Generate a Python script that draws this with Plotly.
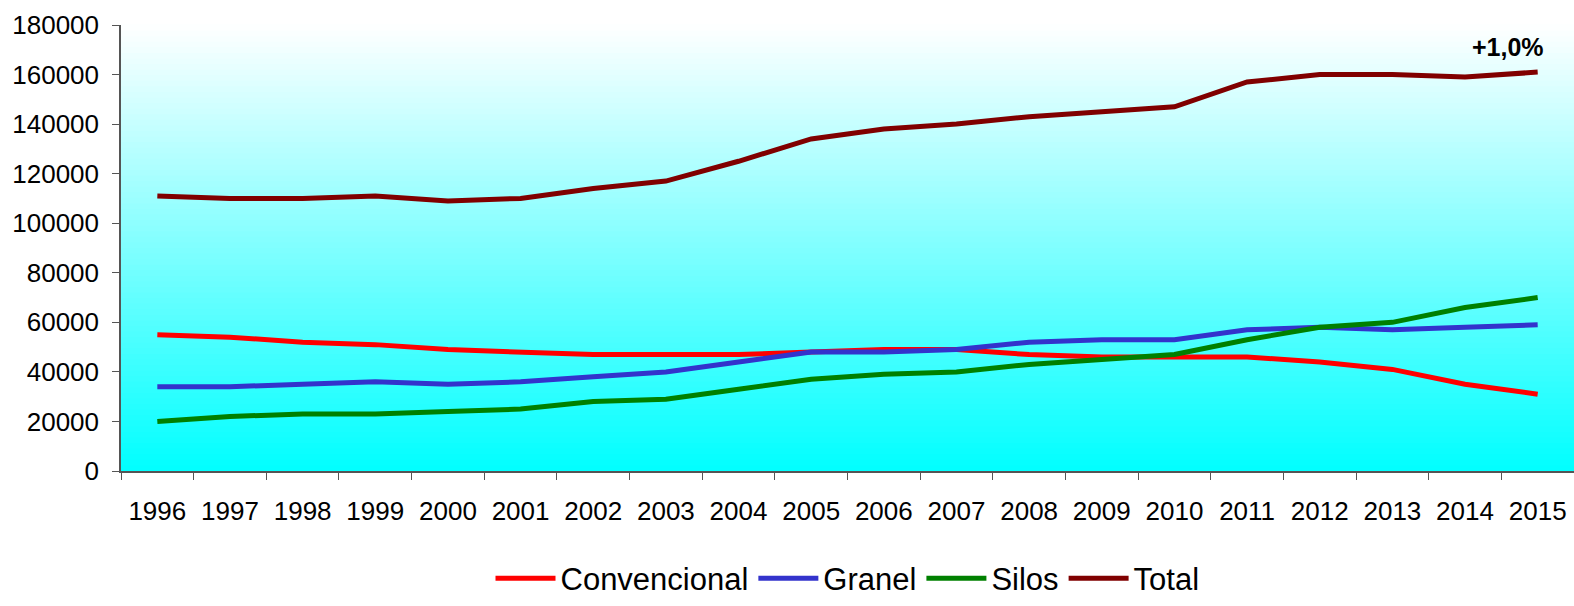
import plotly.graph_objects as go

years = [str(y) for y in range(1996, 2016)]
convencional = [55000, 54000, 52000, 51000, 49000, 48000, 47000, 47000, 47000, 48000,
                49000, 49000, 47000, 46000, 46000, 46000, 44000, 41000, 35000, 31000]
granel = [34000, 34000, 35000, 36000, 35000, 36000, 38000, 40000, 44000, 48000,
          48000, 49000, 52000, 53000, 53000, 57000, 58000, 57000, 58000, 59000]
silos = [20000, 22000, 23000, 23000, 24000, 25000, 28000, 29000, 33000, 37000,
         39000, 40000, 43000, 45000, 47000, 53000, 58000, 60000, 66000, 70000]
total = [111000, 110000, 110000, 111000, 109000, 110000, 114000, 117000, 125000, 134000,
         138000, 140000, 143000, 145000, 147000, 157000, 160000, 160000, 159000, 161000]
series_names = ["Convencional", "Granel", "Silos", "Total"]
series_colors = ["#FF0000", "#3333CC", "#008000", "#800000"]
annotation_text = "+1,0%"
y_ticks = list(range(0, 180001, 20000))

FONT = "Liberation Sans, Arial, sans-serif"

fig = go.Figure()
for name, vals, col in zip(series_names, [convencional, granel, silos, total], series_colors):
    fig.add_trace(go.Scatter(x=years, y=vals, mode="lines", name=name,
                             line=dict(color=col, width=5)))

# gradient background (white at top -> cyan at bottom)
n = 80
shapes = []
for i in range(n):
    f0 = i / n
    f1 = (i + 1) / n
    fm = (f0 + f1) / 2
    r = int(round(255 * fm))
    shapes.append(dict(type="rect", xref="x domain", yref="y domain",
                       x0=0, x1=1, y0=f0, y1=f1 + 0.002,
                       fillcolor=f"rgb({r},255,255)", line=dict(width=0),
                       layer="below"))

fig.update_layout(
    width=1574, height=606,
    margin=dict(l=121, r=0, t=25, b=135),
    paper_bgcolor="white",
    plot_bgcolor="rgba(0,0,0,0)",
    shapes=shapes,
    font=dict(family=FONT, color="black", size=26),
    showlegend=True,
    legend=dict(orientation="h", x=0.5, xanchor="center", y=-0.302, yanchor="bottom",
                font=dict(family=FONT, size=31, color="black"),
                bgcolor="rgba(0,0,0,0)", itemwidth=60),
    annotations=[dict(x=len(years) - 1, y=total[-1], xref="x", yref="y",
                      text=f"<b>{annotation_text}</b>",
                      showarrow=False, xanchor="right", yanchor="middle", xshift=8, yshift=25,
                      font=dict(family=FONT, size=25, color="black"))],
)
fig.update_xaxes(type="category", showgrid=False, showline=True, linecolor="#555555", linewidth=1.5,
                 ticks="outside", tickson="boundaries", ticklen=7, tickcolor="#555555",
                 tickfont=dict(family=FONT, size=26, color="black"), ticklabelstandoff=16,
                 range=[-0.5, 19.5], zeroline=False)
fig.update_yaxes(range=[0, 180000], tickvals=y_ticks, ticktext=[str(v) for v in y_ticks],
                 showgrid=False, showline=True, linecolor="#555555", linewidth=1.5,
                 ticks="outside", ticklen=7, tickcolor="#555555",
                 tickfont=dict(family=FONT, size=26, color="black"), ticklabelstandoff=8,
                 zeroline=False)

fig.write_html("out.html", config={"displayModeBar": False},
               post_script="document.body.style.margin='0px';document.body.style.overflow='hidden';")
